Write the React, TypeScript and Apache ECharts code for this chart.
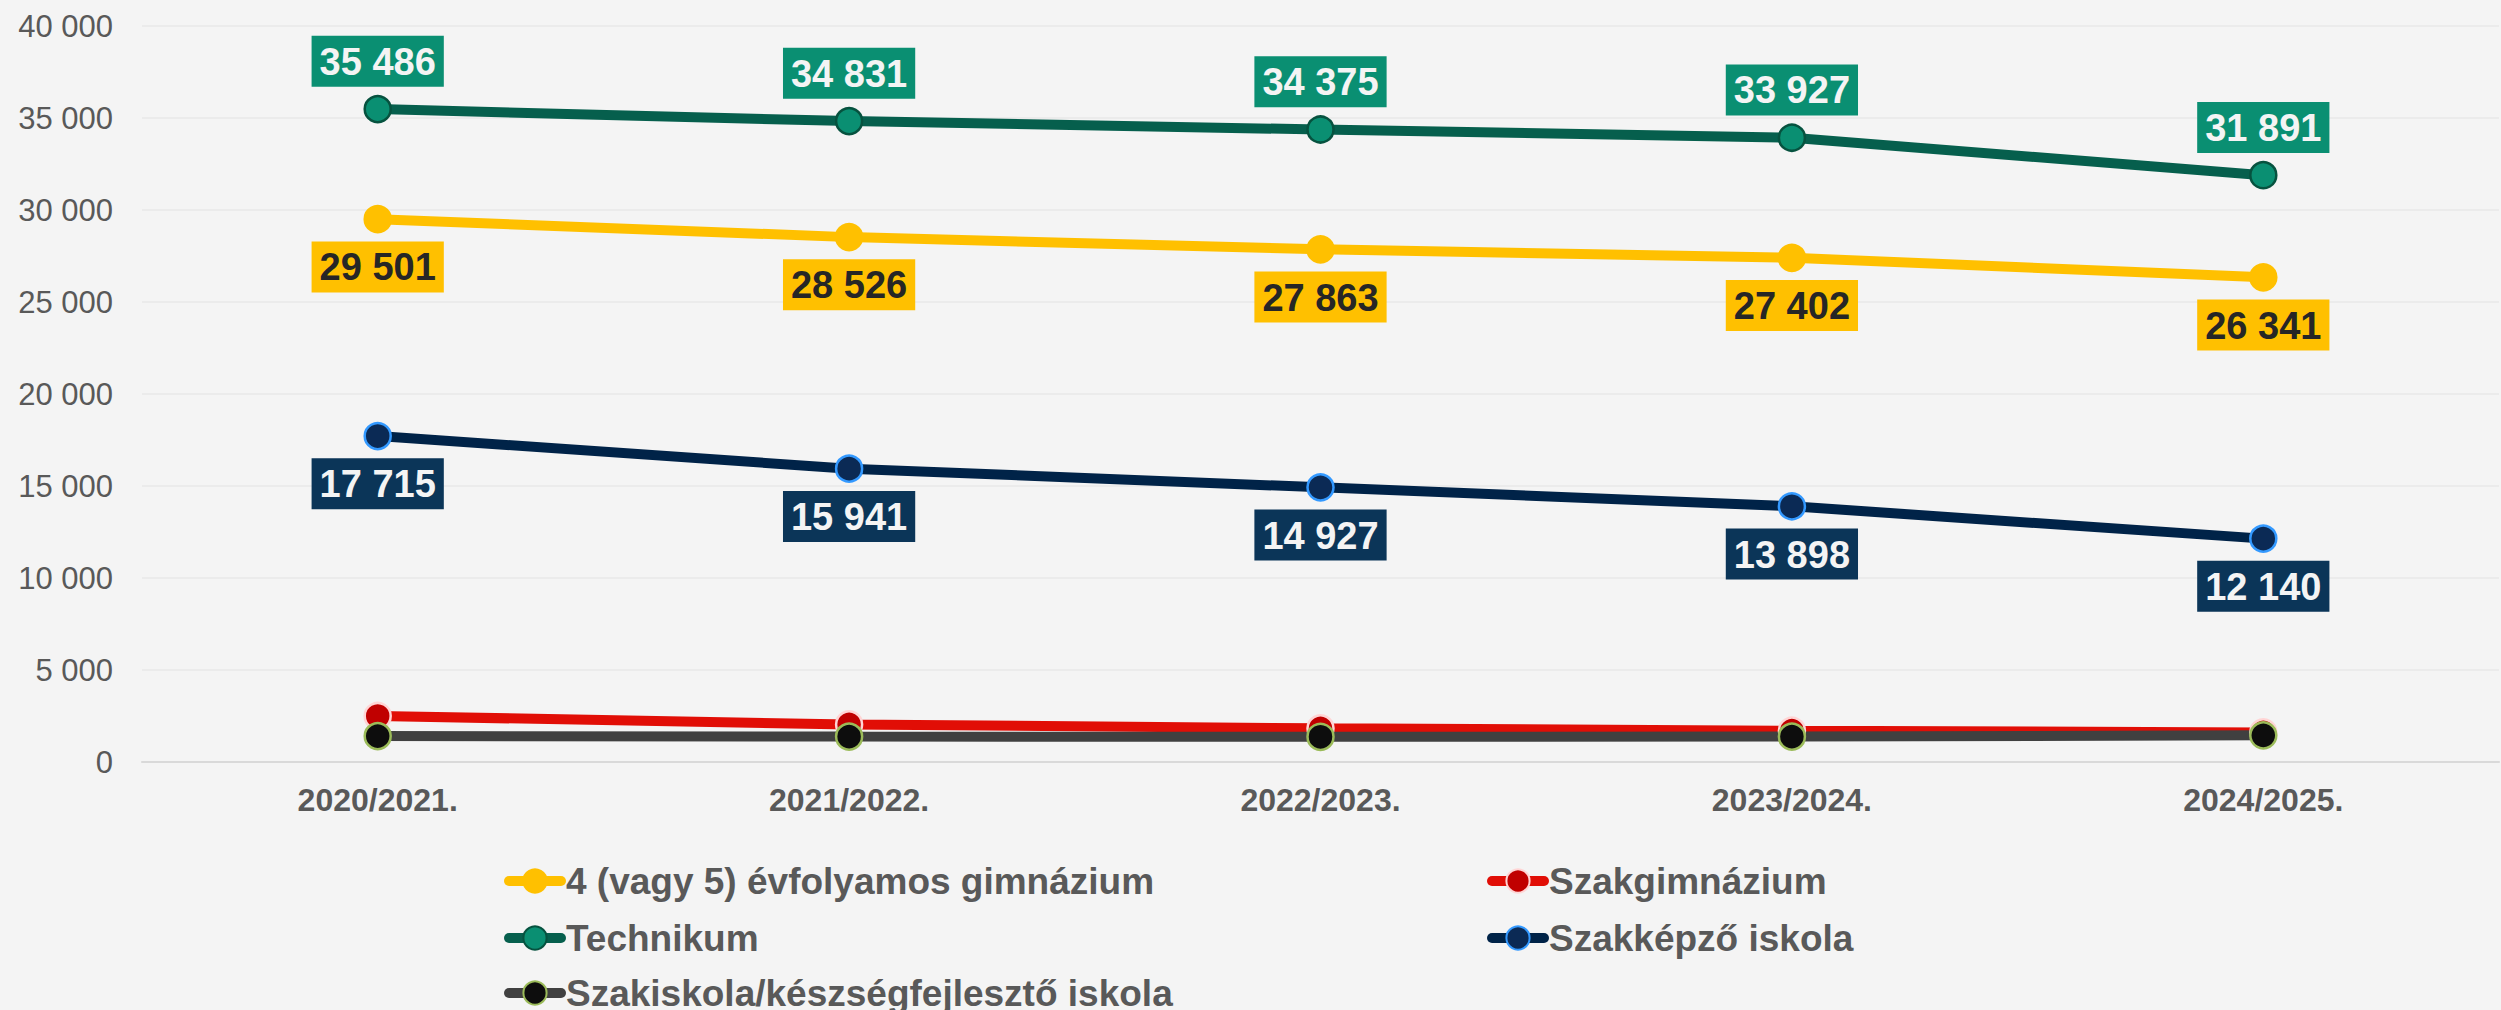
import React, { useEffect, useRef } from "react";
import * as echarts from "echarts";

const categories = ["2020/2021.", "2021/2022.", "2022/2023.", "2023/2024.", "2024/2025."];
const gimnazium = [29501, 28526, 27863, 27402, 26341];
const szakgimnazium = [2500, 2040, 1830, 1700, 1610];
const technikum = [35486, 34831, 34375, 33927, 31891];
const szakkepzo = [17715, 15941, 14927, 13898, 12140];
const szakiskola = [1410, 1380, 1370, 1380, 1450];
const yTicks = { min: 0, max: 40000, interval: 5000 };

const names = {
  gim: "4 (vagy 5) évfolyamos gimnázium",
  szg: "Szakgimnázium",
  tech: "Technikum",
  szk: "Szakképző iskola",
  ski: "Szakiskola/készségfejlesztő iskola",
};

const FONT = "'Liberation Sans', Arial, sans-serif";
const fmt = (v: number) => String(Math.round(v)).replace(/\B(?=(\d{3})+(?!\d))/g, " ");

function label(pos: "top" | "bottom", bg: string, color: string) {
  return {
    show: true,
    position: pos,
    distance: 8,
    formatter: (p: any) => fmt(p.value),
    backgroundColor: bg,
    color,
    fontFamily: FONT,
    fontWeight: "bold" as const,
    fontSize: 38,
    lineHeight: 38,
    padding: [7, 8, 6, 8],
  };
}

function series(name: string, data: number[], line: string, fill: string, border: string, lbl?: any) {
  return {
    name,
    type: "line",
    data,
    symbol: "circle",
    symbolSize: 26,
    lineStyle: { color: line, width: 10, cap: "round" },
    itemStyle: { color: fill, borderColor: border, borderWidth: 2.5 },
    label: lbl || { show: false },
    emphasis: { disabled: true },
  };
}

function legend(name: string, left: number, top: number) {
  return {
    data: [name],
    left,
    top,
    orient: "horizontal",
    itemWidth: 52,
    itemHeight: 29,
    selectedMode: false,
    lineStyle: { cap: "round", width: 10 },
    itemStyle: { borderWidth: 2 },
    textStyle: { fontFamily: FONT, fontSize: 37, fontWeight: "bold", color: "#595959", lineHeight: 40 },
  };
}

export default function App() {
  const ref = useRef<HTMLDivElement>(null);
  useEffect(() => {
    if (!ref.current) return;
    const chart = echarts.init(ref.current, null, { renderer: "svg" });
    chart.setOption({
      animation: false,
      backgroundColor: "#f4f4f4",
      grid: { left: 142, right: 2, top: 26, bottom: 248, containLabel: false },
      xAxis: {
        type: "category",
        data: categories,
        boundaryGap: true,
        axisTick: { show: false },
        axisLine: { lineStyle: { color: "#d9d9d9", width: 2 } },
        axisLabel: { margin: 22, color: "#595959", fontFamily: FONT, fontSize: 32, fontWeight: "bold" },
      },
      yAxis: {
        type: "value",
        min: yTicks.min,
        max: yTicks.max,
        interval: yTicks.interval,
        axisLine: { show: false },
        axisTick: { show: false },
        splitLine: { lineStyle: { color: "#ebebeb", width: 2 } },
        axisLabel: { margin: 29, color: "#595959", fontFamily: FONT, fontSize: 31, formatter: (v: number) => fmt(v) },
      },
      legend: [
        legend(names.gim, 499, 856),
        legend(names.tech, 499, 913),
        legend(names.ski, 499, 968),
        legend(names.szg, 1482, 856),
        legend(names.szk, 1482, 913),
      ],
      series: [
        series(names.gim, gimnazium, "#ffc000", "#ffc000", "#ffc000", label("bottom", "#ffc000", "#262626")),
        series(names.szg, szakgimnazium, "#e10e06", "#c00000", "#ffd5d5"),
        series(names.tech, technikum, "#065f4d", "#0a8f72", "#06523f", label("top", "#0a8f72", "#f4f4f4")),
        series(names.szk, szakkepzo, "#002348", "#0b2a55", "#3399ff", label("bottom", "#0b3558", "#f4f4f4")),
        series(names.ski, szakiskola, "#404040", "#0d0d0d", "#9bbb59"),
      ],
    });
    return () => chart.dispose();
  }, []);
  return <div ref={ref} style={{ position: "absolute", left: 0, top: 0, width: 2501, height: 1010 }} />;
}
